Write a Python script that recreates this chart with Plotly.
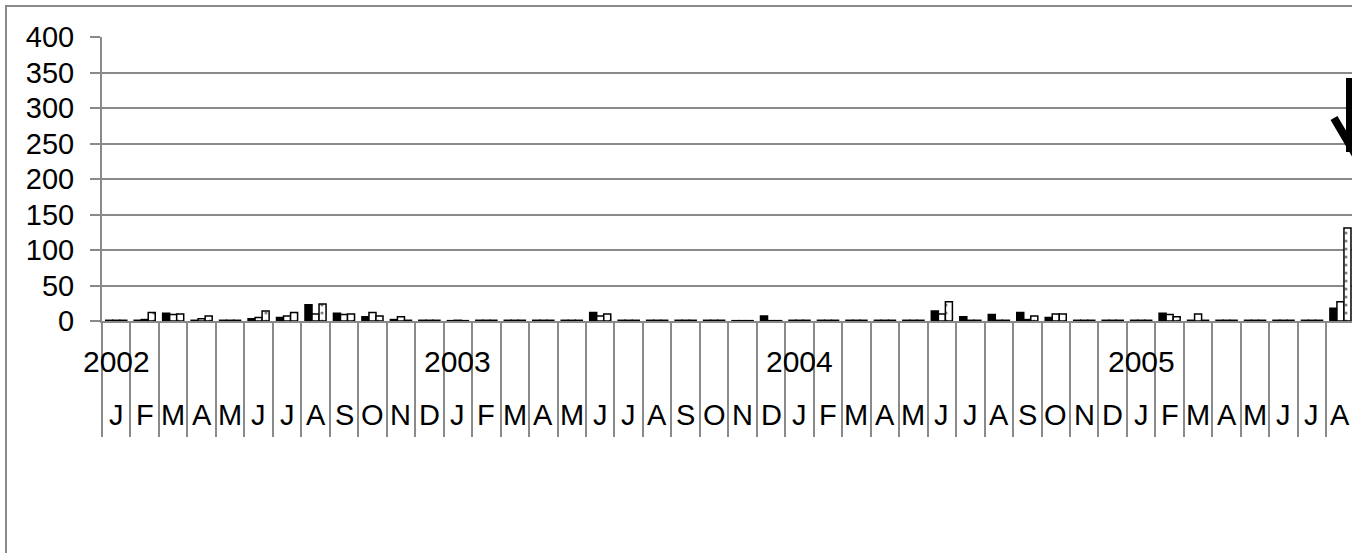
import plotly.graph_objects as go

months = ["J","F","M","A","M","J","J","A","S","O","N","D",
          "J","F","M","A","M","J","J","A","S","O","N","D",
          "J","F","M","A","M","J","J","A","S","O","N","D",
          "J","F","M","A","M","J","J","A"]
years = ["2002", "2003", "2004", "2005"]
year_start_index = [0, 12, 24, 36]

series_black = [1, 1, 11, 1, 1, 3, 5, 23, 11, 6, 2, 1,
                0.5, 1, 1, 1, 1, 12, 1, 1, 1, 1, 0.5, 7,
                1, 1, 1, 1, 1, 14, 6, 9, 12, 5, 1, 1,
                1, 11, 1, 1, 1, 1, 1, 18]
series_white = [1, 2, 9, 3, 1, 5, 7, 10, 9, 12, 6, 1,
                1, 1, 1, 1, 1, 7, 1, 1, 1, 1, 0.5, 0.5,
                1, 1, 1, 1, 1, 10, 1, 1, 2, 10, 1, 1,
                1, 9, 10, 1, 1, 1, 1, 27]
series_dotted = [1, 12, 10, 7, 1, 14, 12, 24, 10, 7, 1, 1,
                 0.5, 1, 1, 1, 1, 10, 1, 1, 1, 1, 0.5, 0.5,
                 1, 1, 1, 1, 1, 27, 1, 1, 7, 10, 1, 1,
                 1, 6, 1, 1, 1, 1, 1, 131]

x = list(range(len(months)))
GRAY = "#8a8a8a"
FONT = "Liberation Sans, Arial, sans-serif"

fig = go.Figure()
fig.add_trace(go.Bar(x=x, y=series_black, marker=dict(color="black", line=dict(color="black", width=1.5))))
fig.add_trace(go.Bar(x=x, y=series_white, marker=dict(color="white", line=dict(color="black", width=1.5))))
fig.add_trace(go.Bar(x=x, y=series_dotted, marker=dict(color="white", line=dict(color="black", width=1.5),
                                                      pattern=dict(shape=".", fgcolor="black", bgcolor="white",
                                                                   size=8, solidity=0.12))))

W, H = 1352, 553
L, T, B = 102, 37, 232
plot_w = W - L
plot_h = H - T - B
col_w = 28.47
x_end = -0.5 + plot_w / col_w

annotations = []
for i, m in enumerate(months):
    annotations.append(dict(x=i, y=-0.331, xref="x", yref="paper", text=m, showarrow=False,
                            font=dict(size=29, color="black", family=FONT), xanchor="center", yanchor="middle"))
for yr, idx in zip(years, year_start_index):
    annotations.append(dict(x=idx, y=-0.144, xref="x", yref="paper", text=yr, showarrow=False,
                            font=dict(size=30, color="black", family=FONT), xanchor="center", yanchor="middle"))

def px(v):
    return (v - L) / plot_w

def py(v):
    return (T + plot_h - v) / plot_h

shapes = [
    dict(type="rect", xref="paper", yref="paper", x0=px(6), x1=1.05, y0=-0.9, y1=py(6),
         line=dict(color=GRAY, width=2), fillcolor="rgba(0,0,0,0)", layer="below"),
    dict(type="line", xref="paper", yref="paper", x0=px(1350), x1=px(1350), y0=py(78), y1=py(152),
         line=dict(color="black", width=8)),
    dict(type="line", xref="paper", yref="paper", x0=px(1334), x1=px(1357), y0=py(118), y1=py(157),
         line=dict(color="black", width=8)),
]

fig.update_layout(
    width=W, height=H,
    margin=dict(l=L, r=0, t=T, b=B, pad=0),
    paper_bgcolor="white", plot_bgcolor="white",
    barmode="group", bargap=0.26, bargroupgap=0,
    showlegend=False,
    font=dict(family=FONT, size=28, color="black"),
    annotations=annotations, shapes=shapes,
    xaxis=dict(range=[-0.5, x_end], showgrid=False, zeroline=False, showline=True, linecolor=GRAY, linewidth=2,
               tickmode="array", tickvals=[i - 0.5 for i in range(len(months) + 1)],
               ticks="outside", ticklen=114, tickwidth=2, tickcolor=GRAY, showticklabels=False),
    yaxis=dict(range=[0, 400], dtick=50, showgrid=True, gridcolor=GRAY, gridwidth=2, zeroline=False,
               showline=True, linecolor=GRAY, linewidth=2, ticks="outside", ticklen=10, tickwidth=2,
               tickcolor=GRAY, ticklabelstandoff=10, tickfont=dict(size=29, color="black", family=FONT)),
)

fig.write_html("out.html", config={"responsive": False, "displayModeBar": False},
               post_script="document.body.style.margin='0';document.body.style.padding='0';"
                           "document.documentElement.style.overflow='hidden';document.body.style.overflow='hidden';")
